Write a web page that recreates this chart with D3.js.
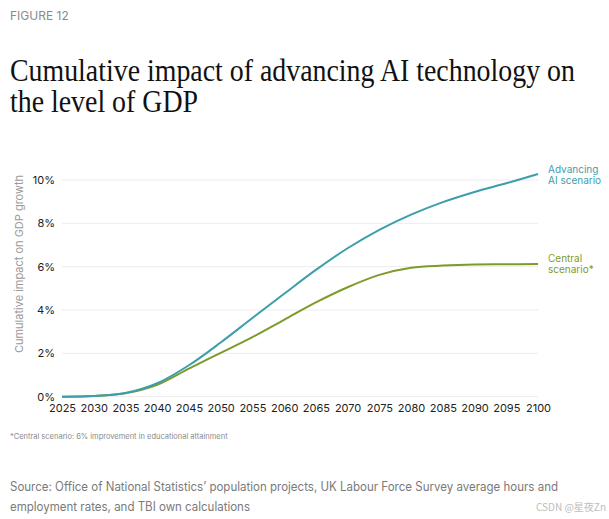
<!DOCTYPE html>
<html>
<head>
<meta charset="utf-8">
<script src="https://cdn.jsdelivr.net/npm/d3@7"></script>
<style>
  html, body { margin: 0; padding: 0; background: #fff; }
  svg { display: block; }
</style>
</head>
<body>
<svg id="chart" width="609" height="519"></svg>
<script>
const years = [2025, 2030, 2035, 2040, 2045, 2050, 2055, 2060, 2065, 2070, 2075, 2080, 2085, 2090, 2095, 2100];
const advancingAI = [0, 0.03, 0.17, 0.62, 1.45, 2.5, 3.63, 4.75, 5.85, 6.85, 7.7, 8.4, 8.98, 9.45, 9.85, 10.28];
const centralScenario = [0, 0.03, 0.16, 0.55, 1.3, 2.02, 2.75, 3.55, 4.35, 5.05, 5.62, 5.95, 6.05, 6.1, 6.11, 6.12];
const yTicks = [0, 2, 4, 6, 8, 10];
const xTicks = years;
const seriesNames = [["Advancing", "AI scenario"], ["Central", "scenario*"]];
const seriesColors = ["#3d9eab", "#7d9b2b"];

const svg = d3.select("#chart");
const sans = "Inter, 'Noto Sans', 'Liberation Sans', sans-serif";

svg.append("text").attr("x", 10).attr("y", 20)
  .attr("font-family", sans).attr("font-size", 12).attr("fill", "#8a8a8a")
  .text("FIGURE 12");

const titleLines = ["Cumulative impact of advancing AI technology on", "the level of GDP"];
const titleWidth = 565;
const title = svg.append("text").attr("x", 0).attr("y", 0)
  .attr("font-family", "'Liberation Serif', 'DejaVu Serif', serif")
  .attr("font-size", 32).attr("fill", "#111");
const spans = titleLines.map((t, i) => title.append("tspan").attr("x", 0).attr("dy", i === 0 ? 0 : 31).text(t));
const w0 = spans[0].node().getComputedTextLength();
title.attr("transform", `translate(10,81) scale(${titleWidth / w0},1)`);

const x = d3.scaleLinear().domain([2025, 2100]).range([62, 538]);
const y = d3.scaleLinear().domain([0, 10]).range([396.7, 180]);

// gridlines
svg.append("g").selectAll("line").data(yTicks).join("line")
  .attr("x1", 62).attr("x2", 538)
  .attr("y1", d => y(d)).attr("y2", d => y(d))
  .attr("stroke", "#ececec").attr("stroke-width", 1);

// y axis
const yAxis = svg.append("g").attr("transform", "translate(55,0)")
  .call(d3.axisLeft(y).tickValues(yTicks).tickFormat(d => d + "%").tickSize(0).tickPadding(0));
yAxis.select(".domain").remove();
yAxis.selectAll("text").attr("font-family", sans).attr("font-size", 11).attr("fill", "#222");

// x axis
const xAxis = svg.append("g").attr("transform", "translate(0,401)")
  .call(d3.axisBottom(x).tickValues(xTicks).tickFormat(d3.format("d")).tickSize(0).tickPadding(3));
xAxis.select(".domain").remove();
xAxis.selectAll("text").attr("font-family", sans).attr("font-size", 11).attr("fill", "#222");

// y axis title
svg.append("text")
  .attr("transform", "translate(23,264) rotate(-90)")
  .attr("text-anchor", "middle")
  .attr("font-family", sans).attr("font-size", 11).attr("fill", "#9a9a9a")
  .text("Cumulative impact on GDP growth");

// lines
const line = d3.line().x((d, i) => x(years[i])).y(d => y(d)).curve(d3.curveCatmullRom.alpha(0.5));
[centralScenario, advancingAI].forEach((s, k) => {
  const col = k === 0 ? seriesColors[1] : seriesColors[0];
  svg.append("path").datum(s).attr("d", line)
    .attr("fill", "none").attr("stroke", col).attr("stroke-width", 2);
});

// series labels
const labelY = [173, 262];
seriesNames.forEach((lines, i) => {
  lines.forEach((t, j) => {
    svg.append("text").attr("x", 548).attr("y", labelY[i] + j * 10.5)
      .attr("font-family", sans).attr("font-size", 10).attr("fill", seriesColors[i])
      .text(t);
  });
});

// footnote
svg.append("text").attr("x", 10).attr("y", 439)
  .attr("font-family", sans).attr("font-size", 7.5).attr("fill", "#8a8a8a")
  .text("*Central scenario: 6% improvement in educational attainment");

const source = ["Source: Office of National Statistics\u2019 population projects, UK Labour Force Survey average hours and",
                "employment rates, and TBI own calculations"];
const sourceWidths = [548, 240];
source.forEach((t, i) => {
  svg.append("text").attr("x", 10).attr("y", 491 + i * 20)
    .attr("font-family", sans).attr("font-size", 12.5).attr("fill", "#7a7a7a")
    .attr("textLength", sourceWidths[i]).attr("lengthAdjust", "spacingAndGlyphs")
    .text(t);
});

svg.append("text").attr("x", 606).attr("y", 511).attr("text-anchor", "end")
  .attr("font-family", "'Noto Sans CJK SC', " + sans).attr("font-size", 10).attr("fill", "#bdbdbd")
  .text("CSDN @星夜Zn");
</script>
</body>
</html>
